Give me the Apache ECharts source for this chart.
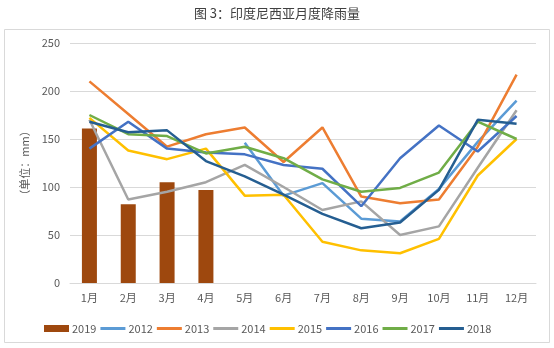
<!DOCTYPE html>
<html>
<head>
<meta charset="utf-8">
<script src="https://cdn.jsdelivr.net/npm/echarts@6/dist/echarts.min.js"></script>
<style>html,body{margin:0;padding:0;background:#fff}#c{width:554px;height:348px}</style>
</head>
<body>
<div id="c"></div>
<script>
const months = ['1月','2月','3月','4月','5月','6月','7月','8月','9月','10月','11月','12月'];
const y2019 = [161, 82, 105, 97, null, null, null, null, null, null, null, null];
const y2012 = [null, null, null, null, 146, 91, 104, 67, 64, 98, 147, 190];
const y2013 = [210, 176, 142, 155, 162, 126, 162, 90, 83, 87, 142, 217];
const y2014 = [170, 87, 95, 105, 123, 100, 76, 85, 50, 59, 120, 180];
const y2015 = [172, 138, 129, 140, 91, 92, 43, 34, 31, 46, 112, 150];
const y2016 = [140, 168, 140, 136, 134, 123, 119, 80, 130, 164, 137, 174];
const y2017 = [175, 155, 153, 135, 142, 130, 108, 95, 99, 115, 168, 150];
const y2018 = [168, 157, 159, 127, 111, 92, 72, 57, 63, 97, 170, 166];
const yTicks = [0, 50, 100, 150, 200, 250];
const lineNames = ['2012', '2013', '2014', '2015', '2016', '2017', '2018'];

const lineSeries = [
  ['2012', y2012, '#5B9BD5'],
  ['2013', y2013, '#ED7D31'],
  ['2014', y2014, '#A5A5A5'],
  ['2015', y2015, '#FFC000'],
  ['2016', y2016, '#4472C4'],
  ['2017', y2017, '#70AD47'],
  ['2018', y2018, '#255E91']
].map(([n, d, c]) => ({
  name: n, type: 'line', data: d, symbol: 'none', showSymbol: false,
  connectNulls: false, color: c,
  lineStyle: { width: 2.5, color: c }, itemStyle: { color: c }, z: 3
}));

const font = '"Noto Sans CJK SC", "Noto Sans", sans-serif';
const chart = echarts.init(document.getElementById('c'), null, { renderer: 'canvas' });
chart.setOption({
  backgroundColor: '#fff',
  animation: false,
  textStyle: { fontFamily: font },
  title: {
    text: '图 3：印度尼西亚月度降雨量', left: 'center', top: 2,
    textStyle: { fontSize: 13, fontWeight: 'normal', color: '#404040', fontFamily: font }
  },
  graphic: [{
    type: 'rect', shape: { x: 4.5, y: 29.5, width: 545, height: 313 },
    style: { fill: 'none', stroke: '#D9D9D9', lineWidth: 1 }, z: -1
  }],
  legend: {
    left: 39, top: 318, itemWidth: 25, itemHeight: 7, itemGap: 4,
    textStyle: { fontSize: 11, color: '#595959', fontFamily: font, padding: [0, 0, 0, -2] },
    data: [{ name: '2019', icon: 'rect' }].concat(lineNames.map(n => ({
      name: n, icon: 'path://M0,0 H25 V3 H0 Z'
    })))
  },
  grid: { left: 70, right: 18, top: 43, bottom: 65 },
  xAxis: {
    type: 'category', data: months, boundaryGap: true,
    axisLine: { lineStyle: { color: '#D9D9D9' } },
    axisTick: { show: false },
    axisLabel: { color: '#595959', fontSize: 11, margin: 9, fontFamily: font }
  },
  yAxis: {
    type: 'value', min: 0, max: 250, interval: 50,
    name: '（单位：mm）', nameLocation: 'middle', nameRotate: 90, nameGap: 38,
    nameTextStyle: { color: '#595959', fontSize: 11, fontFamily: font },
    axisLine: { show: false }, axisTick: { show: false },
    axisLabel: { color: '#595959', fontSize: 11, margin: 10, fontFamily: font,
      formatter: v => yTicks.includes(v) ? String(v) : '' },
    splitLine: { lineStyle: { color: '#D9D9D9' } }
  },
  series: [{
    name: '2019', type: 'bar', data: y2019, barWidth: 15,
    itemStyle: { color: '#9E480E' }, color: '#9E480E', z: 2
  }].concat(lineSeries)
});
</script>
</body>
</html>
